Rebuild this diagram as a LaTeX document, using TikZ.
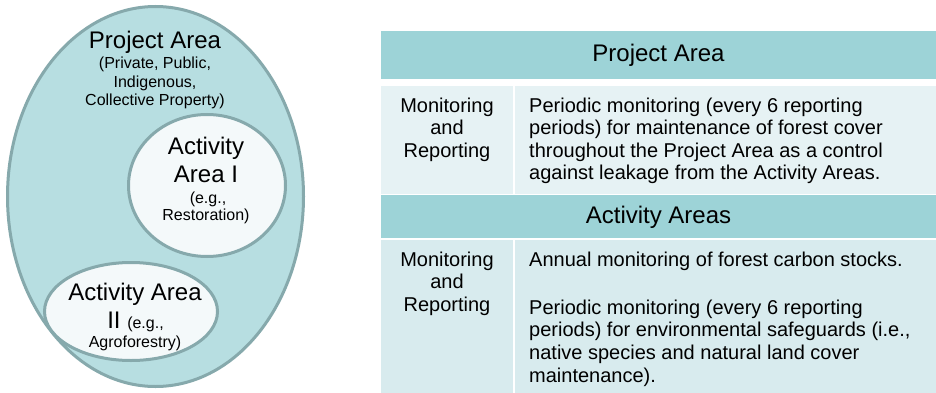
\documentclass[tikz,border=0pt]{standalone}
\usepackage{fontspec}
\setmainfont{Liberation Sans}
\definecolor{rimc}{HTML}{86A9AC}
\definecolor{outerfill}{HTML}{B7DEE1}
\definecolor{innerfill}{HTML}{F4F9FA}
\definecolor{headfill}{HTML}{9DD3D7}
\definecolor{rowa}{HTML}{E6F2F4}
\definecolor{rowb}{HTML}{D8EBEE}
\tikzset{
  area/.style={draw=rimc, line width=3pt},
  big/.style={font=\fontsize{24}{28}\selectfont, inner sep=0pt, anchor=base},
  small/.style={font=\fontsize{16}{18.5}\selectfont, inner sep=0pt, anchor=base},
  headtxt/.style={font=\fontsize{24}{28}\selectfont, inner sep=0pt},
  bodytxt/.style={font=\fontsize{20}{22.6}\selectfont, inner sep=0pt, anchor=north west, align=left},
  keytxt/.style={font=\fontsize{20}{22.6}\selectfont, inner sep=0pt, anchor=north, align=center},
}
\begin{document}
\begin{tikzpicture}[x=1pt, y=-1pt]
\useasboundingbox (0,0) rectangle (936,393);
% left: nested areas
\draw[area, fill=outerfill] (155.5,196.5) ellipse [x radius=148, y radius=190];
\draw[area, fill=innerfill] (207,185.5) ellipse [x radius=78.5, y radius=71];
\draw[area, fill=innerfill] (131,311.5) ellipse [x radius=86.5, y radius=49];
\node[big] (pa) at (155,49) {Project Area};
\node[small] (pa1) at (155,69) {(Private, Public,};
\node[small] (pa2) at (155,87.5) {Indigenous,};
\node[small] (pa3) at (155,106) {Collective Property)};
\node[big] (a1a) at (206,154) {Activity};
\node[big] (a1b) at (206,182) {Area I};
\node[small] (a1c) at (208,203) {(e.g.,};
\node[small] (a1d) at (206,220.5) {Restoration)};
\node[big] (a2a) at (135,300) {Activity Area};
\node[big] (a2b) at (135.5,328) {II {\fontsize{16}{18.5}\selectfont (e.g.,}};
\node[small] (a2c) at (135,347) {Agroforestry)};
% right: table
\fill[headfill] (381,31) rectangle (936,79);
\fill[rowa] (381,86) rectangle (513,194);
\fill[rowa] (515,86) rectangle (936,194);
\fill[headfill] (381,195) rectangle (936,238);
\fill[rowb] (381,240) rectangle (513,393);
\fill[rowb] (515,240) rectangle (936,393);
\node[headtxt] (h1) at (658.5,55) {Project Area};
\node[headtxt] (h2) at (658.5,217) {Activity Areas};
\node[keytxt] (k1) at (447,97.5) {Monitoring\\and\\Reporting};
\node[bodytxt] (b1) at (529,97.5) {Periodic monitoring (every 6 reporting\\periods) for maintenance of forest cover\\throughout the Project Area as a control\\against leakage from the Activity Areas.};
\node[keytxt] (k2) at (447,251.5) {Monitoring\\and\\Reporting};
\node[bodytxt] (b2) at (529,251.5) {Annual monitoring of forest carbon stocks.\\[25.6pt]Periodic monitoring (every 6 reporting\\periods) for environmental safeguards (i.e.,\\native species and natural land cover\\maintenance).};
\end{tikzpicture}
\end{document}
